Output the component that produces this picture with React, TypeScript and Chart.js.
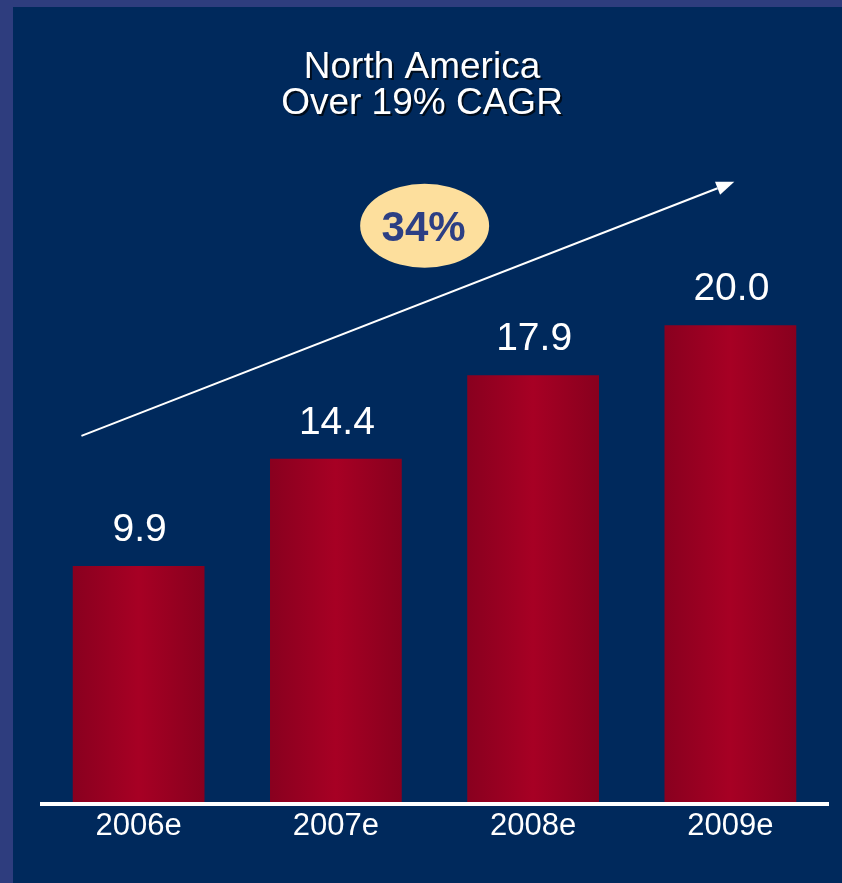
import React, { useEffect, useRef } from "react";
import { Chart, registerables } from "chart.js";

Chart.register(...registerables);

const categories = ["2006e", "2007e", "2008e", "2009e"];
const values = [9.9, 14.4, 17.9, 20.0];
const valueLabels = ["9.9", "14.4", "17.9", "20.0"];
const titleLines = ["North America", "Over 19% CAGR"];
const growthLabel = "34%";
// annotation anchors in data units (category index, value)
const arrowFrom = [-0.29, 15.36];
const arrowTo = [3.02, 26.02];
const bubbleAt = [1.45, 24.17];

const FONT = "Arial, 'Liberation Sans', sans-serif";
const BAR_PCT = 0.668;

const deco = {
  id: "deco",
  beforeDraw(chart: any) {
    const { ctx, width, height } = chart;
    ctx.save();
    ctx.fillStyle = "#2e3d7e";
    ctx.fillRect(0, 0, width, height);
    ctx.fillStyle = "#00295c";
    ctx.fillRect(13, 7, width - 13, height - 7);
    // title
    ctx.font = `37px ${FONT}`;
    ctx.textAlign = "center";
    ctx.textBaseline = "alphabetic";
    const ys = [78, 114];
    titleLines.forEach((t, i) => {
      ctx.fillStyle = "rgba(0,0,0,0.7)";
      ctx.fillText(t, 424, ys[i] + 2);
      ctx.fillStyle = "#ffffff";
      ctx.fillText(t, 422, ys[i]);
    });
    ctx.restore();
  },
  afterDatasetsDraw(chart: any) {
    const { ctx, chartArea } = chart;
    const xs = chart.scales.x;
    const ys = chart.scales.y;
    const px = (v: number[]) => [xs.getPixelForValue(v[0]), ys.getPixelForValue(v[1])];
    ctx.save();
    // axis line
    ctx.fillStyle = "#ffffff";
    ctx.fillRect(chartArea.left, chartArea.bottom, chartArea.right - chartArea.left, 4);
    // value labels
    const meta = chart.getDatasetMeta(0);
    ctx.font = `39px ${FONT}`;
    ctx.textAlign = "center";
    ctx.textBaseline = "alphabetic";
    meta.data.forEach((el: any, i: number) => {
      ctx.fillText(valueLabels[i], el.x + 1, el.y - 25);
    });
    // arrow
    const [x1, y1] = px(arrowFrom);
    const [x2, y2] = px(arrowTo);
    const ang = Math.atan2(y2 - y1, x2 - x1);
    const hl = 18, hw = 7;
    const bx = x2 - hl * Math.cos(ang), by = y2 - hl * Math.sin(ang);
    ctx.strokeStyle = "#ffffff";
    ctx.lineWidth = 2;
    ctx.beginPath();
    ctx.moveTo(x1, y1);
    ctx.lineTo(bx, by);
    ctx.stroke();
    ctx.beginPath();
    ctx.moveTo(x2, y2);
    ctx.lineTo(bx + hw * Math.sin(ang), by - hw * Math.cos(ang));
    ctx.lineTo(bx - hw * Math.sin(ang), by + hw * Math.cos(ang));
    ctx.closePath();
    ctx.fill();
    // bubble
    const [cx, cy] = px(bubbleAt);
    ctx.fillStyle = "#fddf9d";
    ctx.beginPath();
    ctx.ellipse(cx, cy, 64.5, 42, 0, 0, Math.PI * 2);
    ctx.fill();
    ctx.fillStyle = "#2c3f84";
    ctx.font = `bold 42px ${FONT}`;
    ctx.fillText(growthLabel, cx - 1, cy + 15);
    ctx.restore();
  },
};

export default function App() {
  const ref = useRef<HTMLCanvasElement>(null);
  useEffect(() => {
    document.body.style.margin = "0";
    const canvas = ref.current!;
    const chart = new Chart(canvas, {
      type: "bar",
      data: {
        labels: categories,
        datasets: [
          {
            data: values,
            barPercentage: BAR_PCT,
            categoryPercentage: 1,
            borderWidth: 0,
            backgroundColor: (c: any) => {
              const ch = c.chart;
              const xs = ch.scales && ch.scales.x;
              if (!ch.chartArea || !xs || c.dataIndex === undefined) return "#9c0022";
              const center = xs.getPixelForValue(c.dataIndex);
              const w = (xs.width / categories.length) * BAR_PCT;
              const g = ch.ctx.createLinearGradient(center - w / 2, 0, center + w / 2, 0);
              g.addColorStop(0, "#89001f");
              g.addColorStop(0.5, "#a70024");
              g.addColorStop(1, "#88001e");
              return g;
            },
          },
        ],
      },
      options: {
        animation: false,
        responsive: false,
        maintainAspectRatio: false,
        layout: { padding: { left: 40, right: 13, top: 206, bottom: 0 } },
        plugins: { legend: { display: false }, tooltip: { enabled: false }, title: { display: false } },
        scales: {
          x: {
            grid: { display: false, drawTicks: false },
            border: { display: false },
            ticks: { color: "#ffffff", font: { family: FONT, size: 31 }, padding: 6 },
            afterFit: (s: any) => {
              s.height = 81;
            },
          },
          y: { display: false, min: 0, max: 25 },
        },
      },
      plugins: [deco],
    });
    return () => chart.destroy();
  }, []);
  return <canvas ref={ref} width={842} height={883} style={{ display: "block" }} />;
}
